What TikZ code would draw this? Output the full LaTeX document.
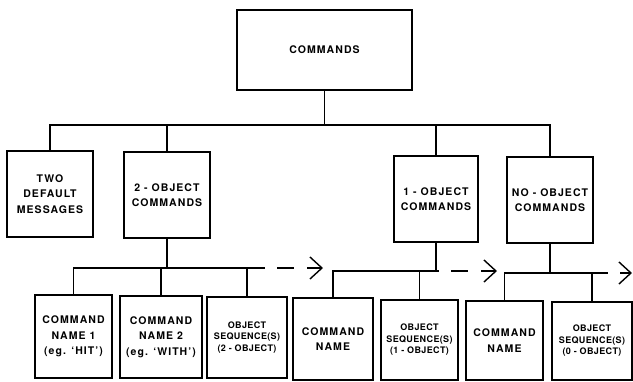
\documentclass[tikz,border=0pt]{standalone}
\usepackage{amsmath}
\usepackage{fontspec}
\usepackage[dvipsnames, svgnames]{xcolor}
\usepackage{tikz}
\usetikzlibrary{arrows.meta}
\usetikzlibrary{calc}

\newfontfamily\chartfont{TeX Gyre Heros}[LetterSpace=10, Ligatures=TeX]
\newfontfamily\smallchartfont{TeX Gyre Heros}[LetterSpace=4, Ligatures=TeX]

\tikzset{
  box/.style={draw, line width=1.4pt, inner sep=0pt, align=center,
              font=\chartfont\bfseries\fontsize{10.5}{15.5}\selectfont},
  seqbox/.style={box, font=\smallchartfont\bfseries\fontsize{9}{11.5}\selectfont},
  tree/.style={line width=1.4pt},
  more/.style={line width=1.4pt, dash pattern=on 0pt off 12pt on 17pt off 13pt on 40pt,
               -{Straight Barb[length=12pt,width=22pt]}},
  last/.style={line width=1.4pt, dash pattern=on 0pt off 12pt on 40pt,
               -{Straight Barb[length=12pt,width=22pt]}}
}

\begin{document}
\begin{tikzpicture}[x=1pt,y=-1pt]

\useasboundingbox (0,0) rectangle (633,381);

\path
(324.5,50) node[box, minimum width=175pt, minimum height=80pt] (cmdin) {COMMANDS}
(50,194) node[box, minimum width=86pt, minimum height=86pt] (twoin) {TWO\\DEFAULT\\MESSAGES}
(167,195) node[box, minimum width=86pt, minimum height=86pt] (obj2in) {2 - OBJECT\\COMMANDS}
(436,199) node[box, minimum width=84pt, minimum height=86pt] (obj1in) {1 - OBJECT\\COMMANDS}
(550,200) node[box, minimum width=86pt, minimum height=86pt] (obj0in) {NO - OBJECT\\COMMANDS};

\path
(73.5,336.5) node[box, minimum width=77pt, minimum height=83pt] (nm1in) {COMMAND\\NAME 1\\(eg. ‘HIT’)}
(161,337) node[box, minimum width=82pt, minimum height=82pt] (nm2in) {COMMAND\\NAME 2\\(eg. ‘WITH’)}
(247,337.5) node[seqbox, minimum width=80pt, minimum height=81pt] (seq2in) {OBJECT\\SEQUENCE(S)\\(2 - OBJECT)}
(333,339) node[box, minimum width=80pt, minimum height=82pt] (nm1bin) {COMMAND\\NAME}
(419.5,340) node[seqbox, minimum width=77pt, minimum height=80pt] (seq1in) {OBJECT\\SEQUENCE(S)\\(1 - OBJECT)}
(504.5,340.5) node[box, minimum width=77pt, minimum height=79pt] (nm0in) {COMMAND\\NAME}
(592,341) node[seqbox, minimum width=80pt, minimum height=78pt] (seq0in) {OBJECT\\SEQUENCE(S)\\(0 - OBJECT)};

% top level
\coordinate (topbar) at (cmdin.south |- 0,125);
\draw[tree] (cmdin.south) -- (topbar);
\draw[tree] (twoin.north) |- (topbar) -| (obj0in.north);
\draw[tree] (obj2in.north) -- (obj2in.north |- topbar);
\draw[tree] (obj1in.north) -- (obj1in.north |- topbar);

% 2 - object
\coordinate (endA) at (265,268);
\draw[tree] (nm1in.north) |- (endA);
\draw[tree] (obj2in.south) -- (obj2in.south |- endA);
\draw[tree] (nm2in.north) -- (nm2in.north |- endA);
\draw[tree] (seq2in.north) -- (seq2in.north |- endA);
\draw[more] (endA) -- ++(58,0);

% 1 - object
\coordinate (endB) at (439,271);
\draw[tree] (nm1bin.north) |- (endB);
\draw[tree] (obj1in.south) -- (obj1in.south |- endB);
\draw[tree] (seq1in.north) -- (seq1in.north |- endB);
\draw[more] (endB) -- ++(58,0);

% no - object
\coordinate (endC) at (608,273);
\draw[tree] (nm0in.north) |- (endC);
\draw[tree] (obj0in.south) -- (obj0in.south |- endC);
\draw[tree] (seq0in.north) -- (seq0in.north |- endC);
\draw[last] (endC) -- ++(24,0);

\end{tikzpicture}
\end{document}
